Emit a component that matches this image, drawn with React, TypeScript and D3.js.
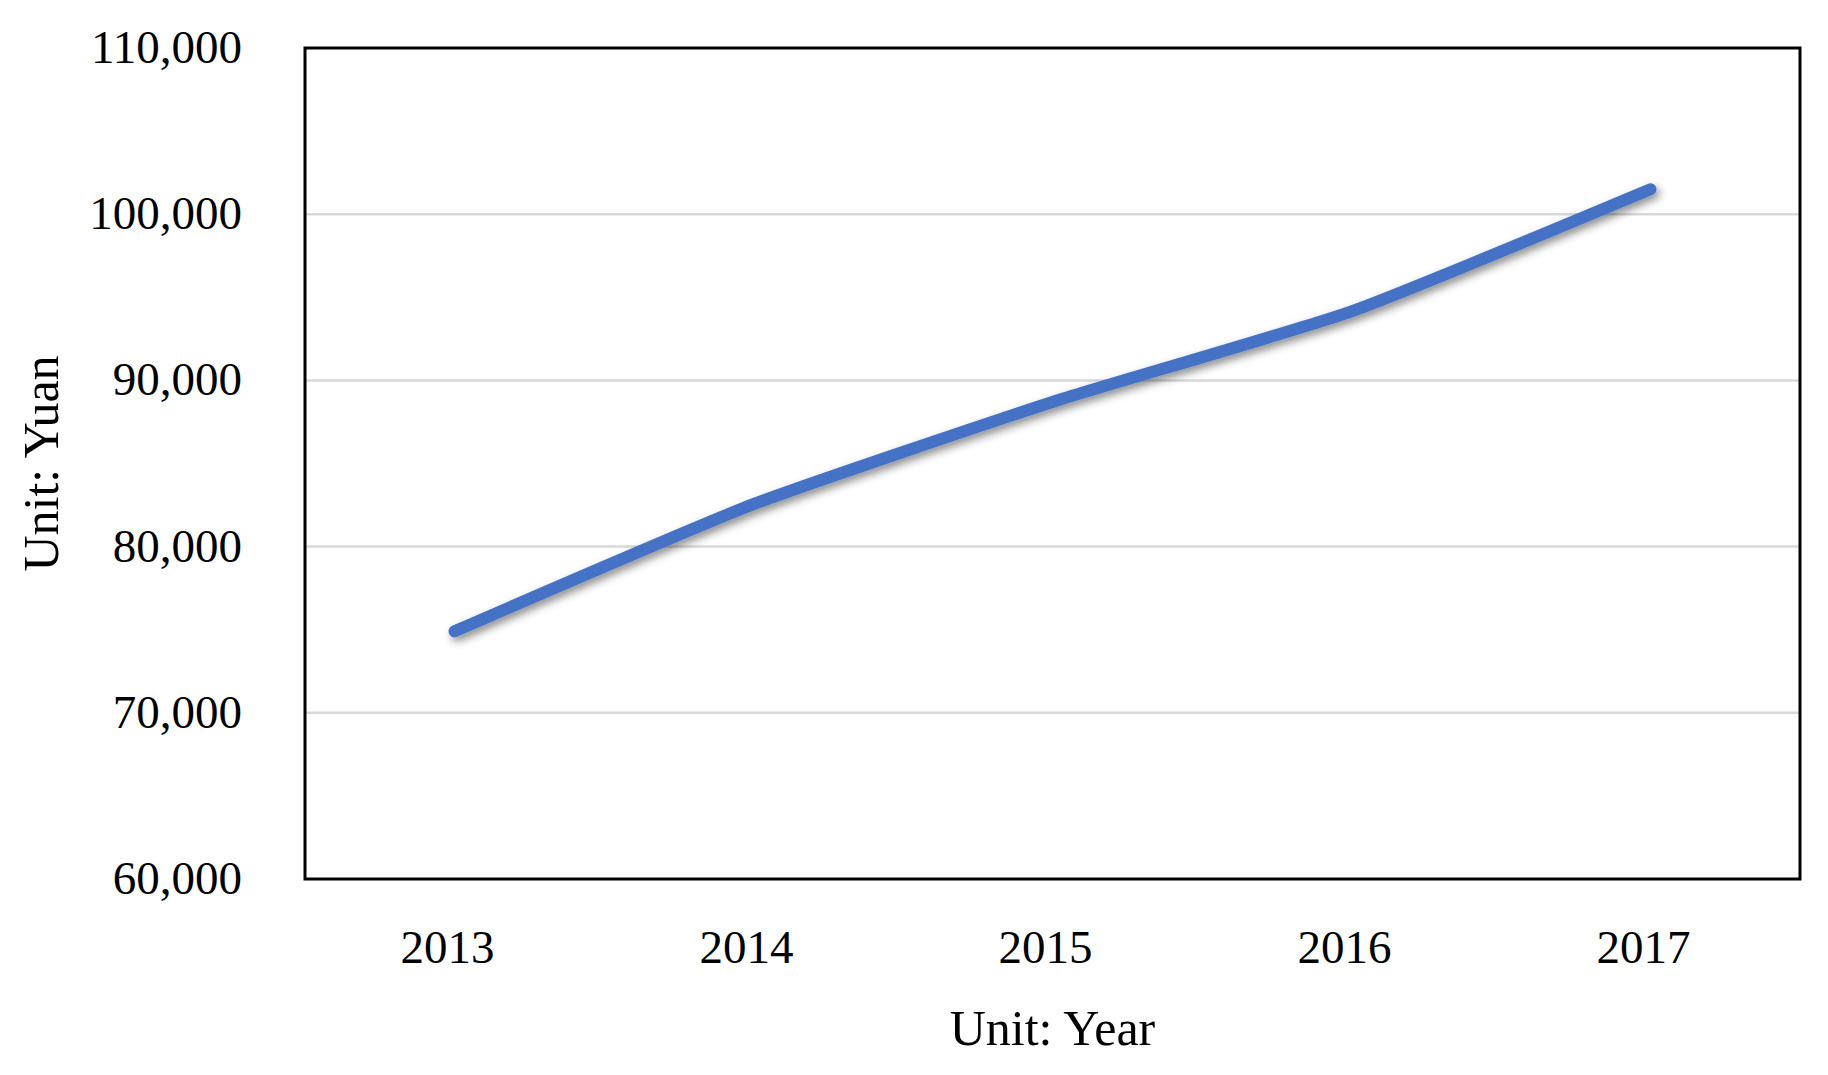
import { useRef, useEffect } from "react";
import * as d3 from "d3";

const years = ["2013", "2014", "2015", "2016", "2017"];
const income = [74900, 82550, 88700, 94150, 101500];
const yTicks = [60000, 70000, 80000, 90000, 100000, 110000];

const W = 1828;
const H = 1075;
const margin = { top: 48, right: 28, bottom: 196, left: 305 };
const FONT = "'Liberation Serif', 'DejaVu Serif', serif";

export default function App() {
  const svgRef = useRef<SVGSVGElement>(null);

  useEffect(() => {
    const svg = d3.select(svgRef.current);
    svg.selectAll("*").remove();

    const innerW = W - margin.left - margin.right;
    const innerH = H - margin.top - margin.bottom;

    const defs = svg.append("defs");
    const f = defs.append("filter")
      .attr("id", "shadow")
      .attr("x", "-10%").attr("y", "-20%")
      .attr("width", "120%").attr("height", "150%");
    f.append("feDropShadow")
      .attr("dx", 3).attr("dy", 4)
      .attr("stdDeviation", 4)
      .attr("flood-color", "#000")
      .attr("flood-opacity", 0.45);

    const g = svg.append("g").attr("transform", `translate(${margin.left},${margin.top})`);

    const x = d3.scaleBand().domain(years).range([0, innerW]);
    const y = d3.scaleLinear().domain([60000, 110000]).range([innerH, 0]);

    // gridlines
    g.append("g")
      .selectAll("line")
      .data(yTicks.slice(1, -1))
      .join("line")
      .attr("x1", 0).attr("x2", innerW)
      .attr("y1", d => y(d)).attr("y2", d => y(d))
      .attr("stroke", "#d9d9d9")
      .attr("stroke-width", 2.5);

    // y tick labels
    g.append("g")
      .selectAll("text")
      .data(yTicks)
      .join("text")
      .attr("x", -63)
      .attr("y", d => y(d))
      .attr("dy", "0.32em")
      .attr("text-anchor", "end")
      .style("font-family", FONT)
      .style("font-size", "47px")
      .attr("fill", "#000")
      .text(d => d3.format(",")(d));

    // x tick labels (slightly left of centre, as in the original)
    g.append("g")
      .selectAll("text")
      .data(years)
      .join("text")
      .attr("x", d => (x(d) as number) + x.bandwidth() / 2 - 7)
      .attr("y", innerH + 84)
      .attr("text-anchor", "middle")
      .style("font-family", FONT)
      .style("font-size", "47px")
      .attr("fill", "#000")
      .text(d => d);

    // line
    const line = d3.line<number>()
      .x((_, i) => (x(years[i]) as number) + x.bandwidth() / 2)
      .y(d => y(d))
      .curve(d3.curveCardinal.tension(0.5));

    g.append("path")
      .datum(income)
      .attr("d", line)
      .attr("fill", "none")
      .attr("stroke", "#4472c4")
      .attr("stroke-width", 12)
      .attr("stroke-linecap", "round")
      .attr("stroke-linejoin", "round")
      .attr("filter", "url(#shadow)");

    // plot frame
    g.append("rect")
      .attr("x", 0).attr("y", 0)
      .attr("width", innerW).attr("height", innerH)
      .attr("fill", "none")
      .attr("stroke", "#000")
      .attr("stroke-width", 3);

    // axis titles
    g.append("text")
      .attr("x", innerW / 2)
      .attr("y", innerH + 166)
      .attr("text-anchor", "middle")
      .style("font-family", FONT)
      .style("font-size", "50px")
      .text("Unit: Year");

    g.append("text")
      .attr("transform", "rotate(-90)")
      .attr("x", -innerH / 2)
      .attr("y", -margin.left + 58)
      .attr("text-anchor", "middle")
      .style("font-family", FONT)
      .style("font-size", "50px")
      .text("Unit: Yuan");
  }, []);

  return (
    <svg
      ref={svgRef}
      width={W}
      height={H}
      style={{ position: "absolute", left: 0, top: 0, background: "#fff" }}
    />
  );
}
